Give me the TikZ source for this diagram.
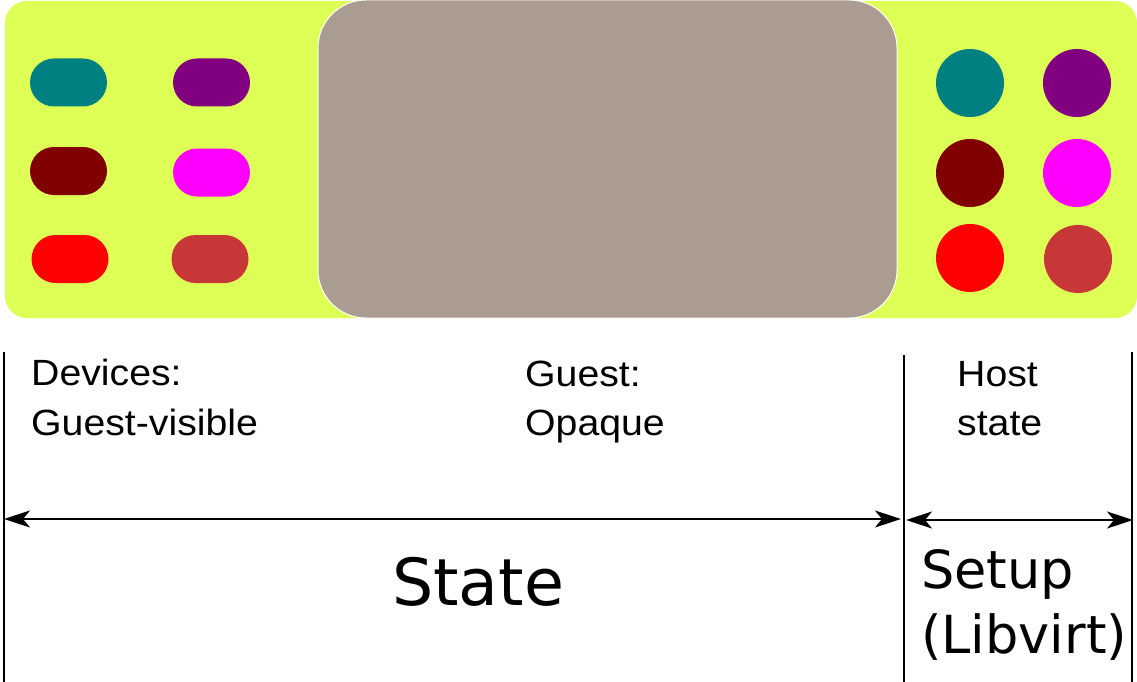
\documentclass[tikz,border=0pt]{standalone}
\usepackage{fontspec}
\setmainfont{Liberation Sans}
\newfontfamily\labfont[FakeStretch=1.075]{Liberation Sans}
\newfontfamily\dejavu{DejaVu Sans}
\usetikzlibrary{shapes.misc,arrows.meta}
\definecolor{bgyellow}{HTML}{DEFF55}
\definecolor{guestgray}{HTML}{AB9C91}
\definecolor{cteal}{HTML}{008080}
\definecolor{cpurple}{HTML}{800080}
\definecolor{cdarkred}{HTML}{800000}
\definecolor{cmagenta}{HTML}{FF00FF}
\definecolor{cred}{HTML}{FF0000}
\definecolor{cbrown}{HTML}{C83737}
\tikzset{
  pill/.style={rounded rectangle, minimum width=77pt, minimum height=48pt, inner sep=0pt, draw=none},
  dot/.style={circle, minimum size=68pt, inner sep=0pt, draw=none},
  small/.style={anchor=base west, inner sep=0pt, font=\labfont\fontsize{36.5}{44}\selectfont},
  dim/.style={line width=1.5pt, {Stealth[length=26pt,width=17pt,inset=7pt]}-{Stealth[length=26pt,width=17pt,inset=7pt]}},
  tick/.style={line width=1.5pt}
}
\begin{document}
\begin{tikzpicture}[x=1pt,y=-1pt]
\useasboundingbox (0,0) rectangle (1137,682);
% background panel
\fill[bgyellow, rounded corners=22pt] (5,1) rectangle (1137,318);
% guest opaque box
\node[draw=white, line width=1pt, fill=guestgray, rounded corners=48pt, minimum width=579pt, minimum height=318pt, inner sep=0pt] (guest) at (607.5,159) {};
% pills
\node[pill, fill=cteal] (p1) at (68.5,82.5) {};
\node[pill, fill=cpurple] (p2) at (211.5,82.5) {};
\node[pill, fill=cdarkred] (p3) at (68.5,171) {};
\node[pill, fill=cmagenta] (p4) at (211.5,172.5) {};
\node[pill, fill=cred] (p5) at (70,259) {};
\node[pill, fill=cbrown] (p6) at (210,259) {};
% circles
\node[dot, fill=cteal] (c1) at (970,83) {};
\node[dot, fill=cpurple] (c2) at (1077,83) {};
\node[dot, fill=cdarkred] (c3) at (970,173) {};
\node[dot, fill=cmagenta] (c4) at (1077,173) {};
\node[dot, fill=cred] (c5) at (970,258) {};
\node[dot, fill=cbrown] (c6) at (1078,259) {};
% vertical ticks
\coordinate (l1) at (4,352);
\coordinate (l2) at (4,682);
\coordinate (m1) at (904,355);
\coordinate (m2) at (904,682);
\coordinate (r1) at (1132,352);
\coordinate (r2) at (1132,682);
\draw[tick] (l1) -- (l2);
\draw[tick] (m1) -- (m2);
\draw[tick] (r1) -- (r2);
% dimension arrows
\coordinate (sa) at (4,519);
\coordinate (sb) at (901,519);
\coordinate (ua) at (906,520);
\coordinate (ub) at (1133,520);
\draw[dim] (sa) -- (sb);
\draw[dim] (ua) -- (ub);
% labels
\node[small] (t1) at (31,385) {Devices:};
\node[small] (t2) at (31,435) {Guest-visible};
\node[small] (t3) at (525,386) {Guest:};
\node[small] (t4) at (525,435) {Opaque};
\node[small] (t5) at (957,386) {Host};
\node[small] (t6) at (957,435) {state};
\node[anchor=base west, inner sep=0pt, font=\dejavu\fontsize{65}{70}\selectfont] (st) at (392,605) {State};
\node[anchor=base west, inner sep=0pt, font=\dejavu\fontsize{52.5}{60}\selectfont] (su) at (921,588) {Setup};
\node[anchor=base west, inner sep=0pt, font=\dejavu\fontsize{52.5}{60}\selectfont] (lv) at (921,653) {(Libvirt)};
\end{tikzpicture}
\end{document}
